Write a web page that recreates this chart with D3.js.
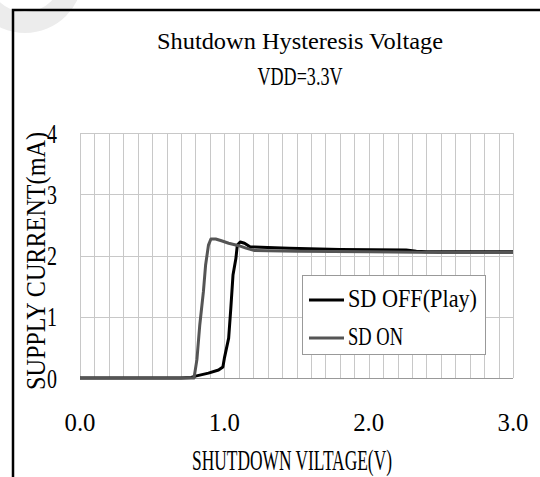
<!DOCTYPE html>
<html>
<head>
<meta charset="utf-8">
<script src="https://cdn.jsdelivr.net/npm/d3@7"></script>
<style>
  body { margin: 0; background: #fff; }
  text { font-family: "Liberation Serif", "DejaVu Serif", serif; fill: #000; }
</style>
</head>
<body>
<div id="okvir"></div>
<script>
// podaci ocitani sa slike
const xSdOff = [0, 0.70, 0.77, 0.80, 0.89, 0.96, 0.99, 1.00, 1.03, 1.045, 1.06, 1.08, 1.09, 1.11, 1.14, 1.18, 1.21, 1.30, 1.45, 1.80, 2.26, 2.33, 2.40, 3.00]
const ySdOff = [0, 0, 0.01, 0.03, 0.08, 0.13, 0.18, 0.32, 0.65, 1.14, 1.68, 1.95, 2.17, 2.22, 2.20, 2.14, 2.14, 2.13, 2.12, 2.10, 2.09, 2.07, 2.06, 2.06]

const xSdOn = [0, 0.79, 0.81, 0.83, 0.855, 0.87, 0.89, 0.907, 0.94, 0.98, 1.03, 1.10, 1.15, 1.21, 1.50, 2.00, 2.50, 3.00]
const ySdOn = [0, 0, 0.30, 0.87, 1.41, 1.84, 2.17, 2.27, 2.27, 2.24, 2.20, 2.16, 2.12, 2.08, 2.07, 2.06, 2.05, 2.05]

const xTicks = [0, 1, 2, 3]
const xTickLabels = ["0.0", "1.0", "2.0", "3.0"]
const yTicks = [0, 1, 2, 3, 4]
const seriesNames = ["SD OFF(Play)", "SD ON"]

function crtaj() {
  const dim = { sirina: 540, visina: 477, left: 80, right: 513, top: 133, bottom: 378 }

  const svg = d3.select("#okvir").append("svg")
      .attr("width", dim.sirina)
      .attr("height", dim.visina)

  // vodeni zig u kutu
  svg.append("path")
      .attr("transform", "translate(25,-25)")
      .attr("d", d3.arc()({ innerRadius: 37, outerRadius: 58, startAngle: 0, endAngle: 2 * Math.PI }))
      .attr("fill", "#ececec")

  // okvir
  svg.append("path")
      .attr("d", "M13,477V10H540")
      .attr("fill", "none")
      .attr("stroke", "#000")
      .attr("stroke-width", 2.5)

  const xSkala = d3.scaleLinear().domain([0, 3]).range([dim.left, dim.right])
  const ySkala = d3.scaleLinear().domain([0, 4]).range([dim.bottom, dim.top])

  // mreza
  const grid = svg.append("g")
  grid.selectAll(".vx").data(d3.range(0, 31).map(i => i / 10)).join("line")
      .attr("x1", d => Math.round(xSkala(d)) + 0.5)
      .attr("x2", d => Math.round(xSkala(d)) + 0.5)
      .attr("y1", ySkala(4))
      .attr("y2", ySkala(0))
      .attr("stroke", "#c8c8c8")
      .attr("stroke-width", 1)
  grid.selectAll(".hy").data(yTicks).join("line")
      .attr("x1", xSkala(0))
      .attr("x2", xSkala(3))
      .attr("y1", d => Math.round(ySkala(d)) + 0.5)
      .attr("y2", d => Math.round(ySkala(d)) + 0.5)
      .attr("stroke", d => d === 0 ? "#999" : "#c8c8c8")
      .attr("stroke-width", 1)

  // osi - oznake
  svg.selectAll(".ytick").data(yTicks).join("text")
      .attr("x", 57)
      .attr("y", d => ySkala(d))
      .attr("dy", "0.34em")
      .attr("text-anchor", "end")
      .attr("textLength", 10)
      .attr("lengthAdjust", "spacingAndGlyphs")
      .style("font-size", "28px")
      .text(d => d)

  svg.selectAll(".xtick").data(xTicks).join("text")
      .attr("x", d => xSkala(d))
      .attr("y", 431)
      .attr("text-anchor", "middle")
      .attr("textLength", 31)
      .attr("lengthAdjust", "spacingAndGlyphs")
      .style("font-size", "25px")
      .text((d, i) => xTickLabels[i])

  svg.append("text")
      .attr("x", 292)
      .attr("y", 470)
      .attr("text-anchor", "middle")
      .attr("textLength", 200)
      .attr("lengthAdjust", "spacingAndGlyphs")
      .style("font-size", "29px")
      .text("SHUTDOWN VILTAGE(V)")

  svg.append("text")
      .attr("transform", "translate(45,261) rotate(-90)")
      .attr("text-anchor", "middle")
      .attr("textLength", 258)
      .attr("lengthAdjust", "spacingAndGlyphs")
      .style("font-size", "27px")
      .text("SUPPLY CURRENT(mA)")

  // naslov
  svg.append("text")
      .attr("x", 300)
      .attr("y", 49)
      .attr("text-anchor", "middle")
      .attr("textLength", 286)
      .attr("lengthAdjust", "spacingAndGlyphs")
      .style("font-size", "24px")
      .text("Shutdown Hysteresis Voltage")
  svg.append("text")
      .attr("x", 300)
      .attr("y", 85)
      .attr("text-anchor", "middle")
      .attr("textLength", 85)
      .attr("lengthAdjust", "spacingAndGlyphs")
      .style("font-size", "25px")
      .text("VDD=3.3V")

  // krivulje
  const linija = d3.line()
      .x(d => xSkala(d[0]))
      .y(d => ySkala(d[1]))

  const serije = [
    { ime: seriesNames[0], boja: "#000", tocke: d3.zip(xSdOff, ySdOff) },
    { ime: seriesNames[1], boja: "#555", tocke: d3.zip(xSdOn, ySdOn) },
  ]

  svg.selectAll(".serija").data(serije).join("path")
      .attr("d", d => linija(d.tocke))
      .attr("fill", "none")
      .attr("stroke", d => d.boja)
      .attr("stroke-width", 3)
      .attr("stroke-linejoin", "round")

  // legenda
  const legenda = svg.append("g")
  legenda.append("rect")
      .attr("x", 302.5)
      .attr("y", 275.5)
      .attr("width", 183)
      .attr("height", 79)
      .attr("fill", "#fff")
      .attr("stroke", "#999")
  const stavke = legenda.selectAll(".stavka").data(serije).join("g")
      .attr("transform", (d, i) => `translate(0,${i === 0 ? 300 : 338})`)
  stavke.append("line")
      .attr("x1", 309).attr("x2", 344)
      .attr("stroke", d => d.boja)
      .attr("stroke-width", 3)
  stavke.append("text")
      .attr("x", 348)
      .attr("y", 7)
      .attr("textLength", (d, i) => i === 0 ? 129 : 55)
      .attr("lengthAdjust", "spacingAndGlyphs")
      .style("font-size", "26px")
      .text(d => d.ime)
}
crtaj()
</script>
</body>
</html>
